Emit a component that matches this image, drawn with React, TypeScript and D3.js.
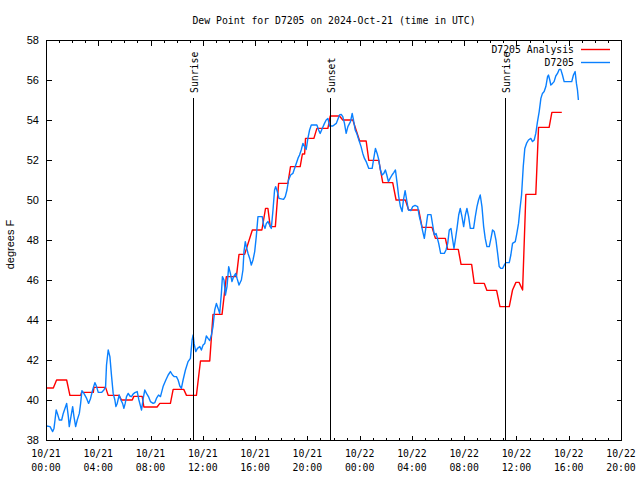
import * as d3 from 'd3';

// Dew point chart, station D7205, 2024-Oct-21 (hours since 10/21 00:00 UTC)

const title = 'Dew Point for D7205 on 2024-Oct-21 (time in UTC)';
const yLabel = 'degrees F';

const tickDays = ['10/21', '10/21', '10/21', '10/21', '10/21', '10/21', '10/22', '10/22', '10/22', '10/22', '10/22', '10/22'];
const tickTimes = ['00:00', '04:00', '08:00', '12:00', '16:00', '20:00', '00:00', '04:00', '08:00', '12:00', '16:00', '20:00'];
const yTicks = [38, 40, 42, 44, 46, 48, 50, 52, 54, 56, 58];

const sunEvents = ['Sunrise', 'Sunset', 'Sunrise'];
const sunHours = [11.25, 21.7, 35.15];

// analysis (red) - vertices of the stepped trace
const analysisHours = [
  0.0, 0.56, 0.81, 1.58, 1.83, 2.65, 2.72, 3.62, 3.67, 4.56, 4.76, 5.58, 5.78, 6.6, 6.72, 7.36,
  7.49, 8.5, 8.71, 9.52, 9.73, 10.54, 10.75, 11.51, 11.82, 12.53, 12.78, 13.47, 13.8, 14.57, 14.77, 15.2,
  15.79, 16.52, 16.8, 16.98, 17.16, 17.55, 17.8, 18.51, 18.71, 19.45, 19.62, 19.79, 19.86, 20.5, 20.73, 21.57,
  21.75, 22.46, 22.71, 23.48, 24.0, 24.5, 24.7, 25.46, 25.77, 26.53, 26.79, 27.5, 27.75, 28.52, 28.78, 29.54,
  29.8, 30.56, 30.74, 31.55, 31.76, 32.57, 32.77, 33.54, 33.74, 34.48, 34.74, 35.45, 35.7, 35.96, 36.2, 36.47,
  36.72, 37.48, 37.69, 38.5, 38.71, 39.47,
];
const analysisDewpt = [
  40.6, 40.6, 41.0, 41.0, 40.23, 40.23, 40.38, 40.38, 40.63, 40.63, 40.23, 40.23, 40.0, 40.0, 40.18, 40.18,
  39.65, 39.65, 39.83, 39.83, 40.53, 40.53, 40.23, 40.23, 41.95, 41.95, 44.28, 44.28, 46.17, 46.17, 47.28, 47.28,
  48.5, 48.5, 49.58, 49.58, 48.67, 48.67, 50.83, 50.83, 51.67, 51.67, 52.3, 52.3, 53.08, 53.08, 53.58, 53.58,
  54.2, 54.2, 54.0, 54.0, 52.95, 52.95, 51.98, 51.98, 50.87, 50.87, 50.0, 50.0, 49.5, 49.5, 48.63, 48.63,
  48.08, 48.08, 47.53, 47.53, 46.78, 46.78, 45.83, 45.83, 45.48, 45.48, 44.67, 44.67, 45.5, 45.88, 45.88, 45.5,
  50.28, 50.28, 53.63, 53.63, 54.38, 54.38,
];

// observations (blue)
const obsHours = [
  0.05, 0.31, 0.51, 0.61, 0.69, 0.78, 0.87, 1.02, 1.2, 1.32, 1.45, 1.58, 1.71, 1.78, 1.91, 2.04,
  2.14, 2.27, 2.39, 2.55, 2.65, 2.75, 2.9, 3.11, 3.26, 3.41, 3.57, 3.74, 3.87, 4.0, 4.25, 4.43,
  4.56, 4.63, 4.76, 4.89, 5.02, 5.14, 5.27, 5.35, 5.45, 5.6, 5.73, 5.86, 5.96, 6.06, 6.16, 6.29,
  6.42, 6.54, 6.67, 6.8, 6.98, 7.11, 7.31, 7.44, 7.56, 7.69, 7.84, 7.99, 8.2, 8.33, 8.45, 8.61,
  8.76, 8.96, 9.17, 9.35, 9.52, 9.68, 9.8, 9.98, 10.11, 10.24, 10.36, 10.49, 10.67, 10.87, 11.05, 11.18,
  11.26, 11.33, 11.46, 11.59, 11.77, 11.89, 12.02, 12.15, 12.27, 12.4, 12.53, 12.66, 12.78, 12.91, 13.04, 13.17,
  13.29, 13.42, 13.5, 13.62, 13.73, 13.85, 13.98, 14.11, 14.23, 14.36, 14.52, 14.62, 14.77, 14.95, 15.07, 15.15,
  15.25, 15.33, 15.46, 15.59, 15.71, 15.84, 15.97, 16.09, 16.22, 16.55, 16.65, 16.76, 16.86, 16.99, 17.11, 17.24,
  17.37, 17.49, 17.57, 17.7, 17.83, 18.18, 18.31, 18.44, 18.56, 18.72, 18.89, 19.02, 19.15, 19.28, 19.4, 19.53,
  19.66, 19.79, 19.91, 20.04, 20.17, 20.3, 20.73, 20.86, 20.98, 21.14, 21.31, 21.44, 21.57, 21.7, 21.95, 22.21,
  22.46, 22.59, 22.71, 22.84, 22.97, 23.1, 23.3, 23.43, 23.53, 23.66, 23.78, 23.94, 24.11, 24.24, 24.37, 24.5,
  24.7, 24.96, 25.08, 25.21, 25.34, 25.47, 25.59, 25.72, 25.85, 25.97, 26.08, 26.2, 26.33, 26.48, 26.61, 26.74,
  26.87, 26.99, 27.12, 27.25, 27.35, 27.48, 27.6, 27.73, 27.93, 28.06, 28.24, 28.44, 28.57, 28.7, 28.83, 28.95,
  29.08, 29.21, 29.46, 29.59, 29.72, 29.85, 30.05, 30.2, 30.48, 30.61, 30.74, 30.86, 30.99, 31.12, 31.22, 31.32,
  31.45, 31.58, 31.7, 31.83, 31.96, 32.09, 32.21, 32.34, 32.47, 32.72, 32.85, 32.98, 33.1, 33.23, 33.36, 33.49,
  33.61, 33.74, 33.92, 34.05, 34.17, 34.3, 34.43, 34.56, 34.68, 34.81, 34.94, 35.07, 35.19, 35.45, 35.57, 35.7,
  35.91, 36.03, 36.16, 36.26, 36.39, 36.52, 36.64, 36.77, 36.92, 37.1, 37.23, 37.36, 37.48, 37.61, 37.74, 37.87,
  37.99, 38.12, 38.25, 38.38, 38.45, 38.55, 38.63, 38.76, 38.88, 39.01, 39.14, 39.27, 39.39, 39.52, 39.65, 40.23,
  40.36, 40.49, 40.59, 40.67, 40.74,
];
const obsDewpt = [
  38.7, 38.67, 38.42, 38.58, 39.0, 39.5, 39.33, 39.0, 39.0, 39.33, 39.58, 39.83, 39.17, 38.67, 39.17, 39.67,
  39.17, 38.67, 39.0, 39.33, 39.83, 40.47, 40.33, 40.08, 39.83, 40.08, 40.5, 40.87, 40.67, 40.38, 40.38, 40.5,
  40.67, 41.75, 42.5, 42.17, 41.17, 40.33, 40.0, 39.67, 39.83, 40.25, 40.0, 39.83, 39.58, 39.83, 40.17, 40.33,
  40.2, 40.17, 40.3, 40.37, 40.42, 40.0, 39.5, 40.08, 40.5, 40.33, 40.17, 39.92, 39.83, 39.87, 40.08, 40.25,
  40.17, 40.67, 41.0, 41.25, 41.42, 41.25, 41.17, 41.17, 41.0, 40.7, 40.58, 41.0, 41.5, 41.92, 42.08, 43.0,
  43.25, 42.83, 42.42, 42.58, 42.67, 42.5, 42.75, 42.83, 43.2, 43.08, 42.97, 43.25, 43.67, 44.5, 44.83, 44.58,
  44.33, 45.33, 46.17, 46.0, 45.25, 45.67, 46.67, 46.33, 45.92, 46.17, 46.33, 46.08, 45.75, 46.0, 46.5, 47.42,
  47.92, 47.67, 47.33, 47.08, 46.75, 47.0, 47.42, 48.17, 49.17, 49.17, 48.75, 48.58, 48.83, 48.92, 48.75, 48.58,
  49.5, 50.5, 50.67, 50.42, 50.08, 50.03, 50.17, 50.5, 51.0, 51.25, 51.33, 51.58, 51.83, 52.08, 52.25, 52.5,
  52.83, 52.67, 52.53, 53.08, 53.5, 53.75, 53.75, 53.5, 53.33, 53.58, 53.83, 54.0, 54.08, 53.7, 53.7, 53.83,
  54.25, 54.28, 54.17, 53.83, 53.33, 53.67, 53.92, 54.33, 54.0, 53.5, 53.33, 53.0, 52.67, 52.33, 52.08, 51.92,
  51.58, 51.58, 52.08, 52.58, 52.33, 52.0, 51.5, 51.25, 51.33, 51.5, 51.25, 50.92, 51.08, 51.25, 51.37, 51.5,
  50.83, 50.17, 49.67, 49.42, 50.0, 50.47, 50.0, 49.5, 49.47, 49.67, 49.73, 49.67, 49.17, 48.83, 48.42, 48.08,
  48.67, 49.27, 49.27, 48.75, 48.25, 48.33, 47.83, 47.33, 47.33, 47.5, 47.83, 48.5, 48.58, 48.0, 47.58, 48.0,
  48.58, 49.25, 49.58, 49.17, 48.67, 49.25, 49.58, 49.17, 48.58, 48.58, 49.17, 49.67, 50.0, 50.25, 49.67, 48.67,
  48.08, 47.67, 47.67, 48.08, 48.5, 48.42, 48.0, 47.33, 46.67, 46.58, 46.58, 46.75, 46.87, 46.87, 47.25, 47.83,
  47.92, 48.33, 48.83, 49.5, 50.25, 51.67, 52.58, 52.83, 53.0, 53.08, 52.92, 53.0, 53.33, 53.92, 54.42, 55.08,
  55.33, 55.42, 55.67, 56.17, 56.25, 56.0, 55.75, 55.83, 55.92, 56.2, 56.33, 56.53, 56.53, 56.25, 55.92, 55.92,
  56.25, 56.42, 55.83, 55.5, 55.0,
];

const seriesNames = ['D7205 Analysis', 'D7205'];
const seriesColors = ['#ff0000', '#0a80ff'];

const width = 640;
const height = 480;
const margin = { top: 40, right: 19, bottom: 40, left: 46 };
const mono = '"DejaVu Sans Mono", monospace';
const sans = '"Liberation Sans", Arial, sans-serif';

export default function App() {
  const x = d3.scaleLinear().domain([0, 44]).range([margin.left, width - margin.right]);
  const y = d3.scaleLinear().domain([38, 58]).range([height - margin.bottom, margin.top]);
  const x0 = margin.left + 0.5;
  const x1 = width - margin.right + 0.5;
  const y0 = margin.top + 0.5;
  const y1 = height - margin.bottom + 0.5;

  const line = d3.line<[number, number]>()
    .x(d => x(d[0]))
    .y(d => y(d[1]));

  const analysis = analysisHours.map((h, i) => [h, analysisDewpt[i]] as [number, number]);
  const obs = obsHours.map((h, i) => [h, obsDewpt[i]] as [number, number]);

  const minorHours = d3.range(0, 45, 1);
  const majorHours = d3.range(0, 45, 4);

  return (
    <div style={{ position: 'fixed', left: 0, top: 0 }}>
      <svg width={width} height={height} style={{ display: 'block', background: '#fff' }}>
        {/* title */}
        <text x={(x0 + x1) / 2} y={24} textAnchor="middle" fontFamily={mono} fontSize={9.8} fill="#000">
          {title}
        </text>

        {/* y axis label */}
        <text
          transform={`translate(14,${(y0 + y1) / 2 + 4}) rotate(-90)`}
          textAnchor="middle"
          fontFamily={sans}
          fontSize={11}
          fill="#000"
        >
          {yLabel}
        </text>

        {/* data */}
        <g fill="none" strokeWidth={1.4} strokeLinejoin="round">
          <path d={line(analysis) ?? ''} stroke={seriesColors[0]} />
          <path d={line(obs) ?? ''} stroke={seriesColors[1]} />
        </g>

        {/* sunrise / sunset markers */}
        {sunHours.map((h, i) => {
          const sx = Math.round(x(h)) + 0.5;
          return (
            <g key={`sun${i}`}>
              <line x1={sx} x2={sx} y1={98} y2={y1} stroke="#000" strokeWidth={1} />
              <text
                transform={`translate(${sx + 4},93) rotate(-90)`}
                fontFamily={mono}
                fontSize={9.8}
                fill="#000"
              >
                {sunEvents[i]}
              </text>
            </g>
          );
        })}

        {/* frame */}
        <rect x={x0} y={y0} width={x1 - x0} height={y1 - y0} fill="none" stroke="#000" strokeWidth={1} shapeRendering="crispEdges" />

        {/* x ticks */}
        <g stroke="#000" strokeWidth={1} shapeRendering="crispEdges">
          {minorHours.map(h => {
            const tx = Math.round(x(h)) + 0.5;
            const len = h % 4 === 0 ? 5 : 2.5;
            return (
              <g key={`xt${h}`}>
                <line x1={tx} x2={tx} y1={y1} y2={y1 - len} />
                <line x1={tx} x2={tx} y1={y0} y2={y0 + len} />
              </g>
            );
          })}
          {yTicks.map(v => {
            const ty = Math.round(y(v)) + 0.5;
            return (
              <g key={`yt${v}`}>
                <line x1={x0} x2={x0 + 5} y1={ty} y2={ty} />
                <line x1={x1} x2={x1 - 5} y1={ty} y2={ty} />
              </g>
            );
          })}
        </g>

        {/* x tick labels */}
        <g fontFamily={mono} fontSize={9.8} fill="#000" textAnchor="middle">
          {majorHours.map((h, i) => (
            <g key={`xl${h}`}>
              <text x={x(h)} y={457}>{tickDays[i]}</text>
              <text x={x(h)} y={471}>{tickTimes[i]}</text>
            </g>
          ))}
        </g>

        {/* y tick labels */}
        <g fontFamily={sans} fontSize={11} fill="#000" textAnchor="end">
          {yTicks.map(v => (
            <text key={`yl${v}`} x={39} y={y(v) + 4}>{v}</text>
          ))}
        </g>

        {/* legend */}
        {seriesNames.map((name, i) => {
          const ly = 49.5 + i * 13;
          return (
            <g key={name}>
              <text x={574} y={ly + 3.5} textAnchor="end" fontFamily={mono} fontSize={9.8} fill="#000">{name}</text>
              <line x1={581} x2={610} y1={ly} y2={ly} stroke={seriesColors[i]} strokeWidth={1.4} />
            </g>
          );
        })}
      </svg>
    </div>
  );
}
